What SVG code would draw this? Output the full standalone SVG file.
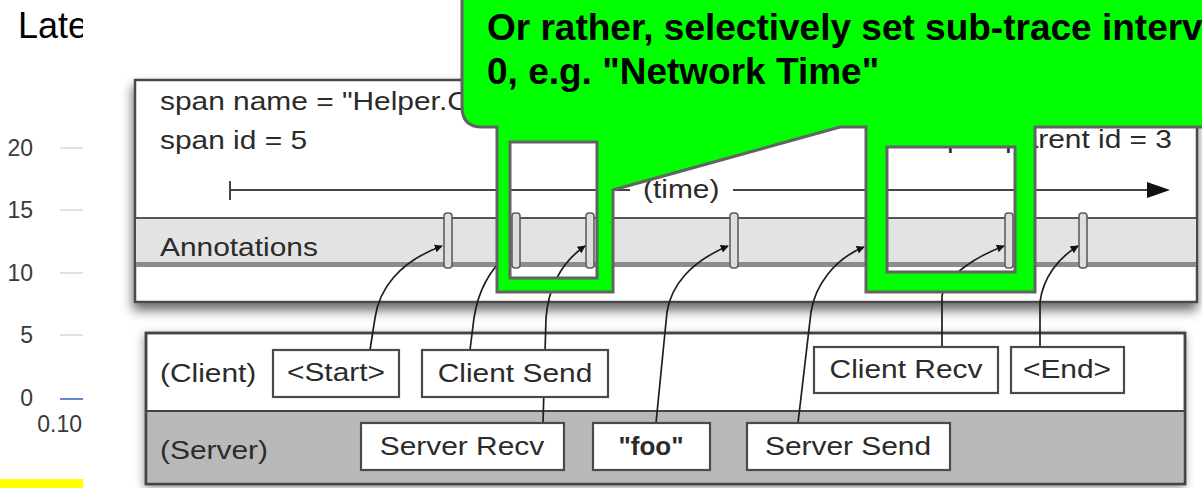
<svg xmlns="http://www.w3.org/2000/svg" width="1202" height="488" viewBox="0 0 1202 488">
  <defs>
    <style>
      .axis{font-family:"Liberation Sans",Arial,sans-serif;font-size:23px;fill:#3a3a3a}
      .tick{stroke:#cfcfcf;stroke-width:1.2}
      .lbl{font-family:"Liberation Sans",Arial,sans-serif;font-size:26px;fill:#2b2b2b}
      .bold{font-weight:bold}
      .box{fill:#fff;stroke:#4a4a4a;stroke-width:2.2}
      .mark{fill:#dedede;stroke:#5e5e5e;stroke-width:1.6}
      .conn{fill:none;stroke:#1e1e1e;stroke-width:1.7;marker-end:url(#head)}
      .axisline{fill:none;stroke:#444;stroke-width:2}
      .callout{font-family:"Liberation Sans",Arial,sans-serif;font-weight:bold;font-size:37px;fill:#000}
    </style>
    <filter id="shadow" x="-5%" y="-15%" width="110%" height="135%">
      <feDropShadow dx="-1" dy="7" stdDeviation="6" flood-color="#000" flood-opacity="0.6"/>
    </filter>
    <filter id="shadow2" x="-5%" y="-15%" width="110%" height="135%">
      <feDropShadow dx="-1" dy="3" stdDeviation="5" flood-color="#000" flood-opacity="0.4"/>
    </filter>
    <marker id="head" viewBox="0 0 10 10" refX="9" refY="5" markerWidth="8" markerHeight="8" markerUnits="userSpaceOnUse" orient="auto">
      <path d="M0,0 L10,5 L0,10 z" fill="#111"/>
    </marker>
  </defs>

  <!-- slide chart behind the figure -->
  <g id="chart">
    <text x="18" y="38" font-family="'Liberation Sans',Arial,sans-serif" font-size="36" fill="#000">Late</text>
    <text class="axis" x="33" y="156" text-anchor="end">20</text>
    <text class="axis" x="33" y="218" text-anchor="end">15</text>
    <text class="axis" x="33" y="281" text-anchor="end">10</text>
    <text class="axis" x="33" y="343" text-anchor="end">5</text>
    <text class="axis" x="33" y="406" text-anchor="end">0</text>
    <text class="axis" x="82" y="432" text-anchor="end">0.10</text>
    <line class="tick" x1="60" y1="148" x2="83" y2="148"/>
    <line class="tick" x1="60" y1="210" x2="83" y2="210"/>
    <line class="tick" x1="60" y1="273" x2="83" y2="273"/>
    <line class="tick" x1="60" y1="335" x2="83" y2="335"/>
    <line x1="60" y1="399" x2="83" y2="399" stroke="#3b66c4" stroke-width="1.6"/>
    <rect x="0" y="479" width="83" height="9" fill="#ffff00"/>
  </g>

  <!-- figure background -->
  <rect x="83" y="0" width="1119" height="488" fill="#fff"/>

  <!-- span box -->
  <g id="span">
    <rect x="135" y="80" width="1062" height="222" fill="#fff" stroke="#4a4a4a" stroke-width="2.5" filter="url(#shadow)"/>
    <text class="lbl" transform="translate(160 110) scale(1.15 1)">span name = "Helper.C</text>
    <text class="lbl" transform="translate(160 149) scale(1.15 1)">span id = 5</text>
    <text class="lbl" text-anchor="end" transform="translate(1172 148) scale(1.15 1)">span parent id = 3</text>
    <line class="axisline" x1="230" y1="181" x2="230" y2="200"/>
    <line class="axisline" x1="230" y1="190" x2="630" y2="190"/>
    <line class="axisline" x1="733" y1="190" x2="1150" y2="190"/>
    <path d="M1147,182 L1170,190 L1147,198 z" fill="#111"/>
    <text class="lbl" transform="translate(643 198) scale(1.15 1)">(time)</text>
  </g>

  <!-- annotation band -->
  <g id="annotations">
    <rect x="136" y="218" width="1060" height="46" fill="#e3e3e3"/>
    <line x1="136" y1="218" x2="1196" y2="218" stroke="#555" stroke-width="2"/>
    <rect x="136" y="262" width="1060" height="5" fill="#8c8c8c"/>
    <text class="lbl" transform="translate(160 256) scale(1.15 1)">Annotations</text>
    <rect class="mark" x="444" y="213" width="8" height="55" rx="3"/>
    <rect class="mark" x="512" y="213" width="8" height="55" rx="3"/>
    <rect class="mark" x="586" y="213" width="8" height="55" rx="3"/>
    <rect class="mark" x="730" y="213" width="8" height="55" rx="3"/>
    <rect class="mark" x="1005" y="213" width="8" height="55" rx="3"/>
    <rect class="mark" x="1079" y="213" width="8" height="55" rx="3"/>
  </g>

  <!-- client / server lanes -->
  <g id="lanes">
    <rect x="146" y="333" width="1039" height="151" fill="#fff" stroke="#444" stroke-width="2.5" filter="url(#shadow2)"/>
    <rect x="147" y="411" width="1037" height="72" fill="#b9b9b9"/>
    <line x1="146" y1="411" x2="1185" y2="411" stroke="#444" stroke-width="2"/>
    <rect x="146" y="333" width="1039" height="151" fill="none" stroke="#444" stroke-width="2.5"/>
    <text class="lbl" transform="translate(160 382) scale(1.15 1)">(Client)</text>
    <text class="lbl" transform="translate(160 459) scale(1.15 1)">(Server)</text>
  </g>

  <!-- connectors from events to annotations -->
  <g id="connectors">
    <path class="conn" d="M370,350 L375,318 C379,290 398,262 442,246"/>
    <path class="conn" d="M470,350 L474,318 C478,292 490,268 511,252"/>
    <path class="conn" d="M543,423 L546,318 C548,290 560,263 585,246"/>
    <path class="conn" d="M656,423 L667,312 C671,286 690,262 728,246"/>
    <path class="conn" d="M798,423 L811,312 C815,286 834,259 864,247"/>
    <path class="conn" d="M942,347 L942,296 C945,278 972,258 1004,246"/>
    <path class="conn" d="M1040,347 L1040,302 C1043,278 1058,258 1078,246"/>
  </g>

  <!-- events -->
  <g id="node-start">
    <rect class="box" x="273" y="350" width="126" height="47"/>
    <text class="lbl" text-anchor="middle" transform="translate(336 381) scale(1.15 1)">&lt;Start&gt;</text>
  </g>
  <g id="node-client-send">
    <rect class="box" x="422" y="350" width="186" height="47"/>
    <text class="lbl" text-anchor="middle" transform="translate(515 382) scale(1.15 1)">Client Send</text>
  </g>
  <g id="node-client-recv">
    <rect class="box" x="814" y="347" width="184" height="46"/>
    <text class="lbl" text-anchor="middle" transform="translate(906 378) scale(1.15 1)">Client Recv</text>
  </g>
  <g id="node-end">
    <rect class="box" x="1011" y="347" width="113" height="46"/>
    <text class="lbl" text-anchor="middle" transform="translate(1067 378) scale(1.15 1)">&lt;End&gt;</text>
  </g>
  <g id="node-server-recv">
    <rect class="box" x="361" y="423" width="203" height="47"/>
    <text class="lbl" text-anchor="middle" transform="translate(462 455) scale(1.15 1)">Server Recv</text>
  </g>
  <g id="node-foo">
    <rect class="box" x="593" y="423" width="117" height="47"/>
    <text class="lbl bold" text-anchor="middle" transform="translate(651 455)">"foo"</text>
  </g>
  <g id="node-server-send">
    <rect class="box" x="747" y="423" width="203" height="47"/>
    <text class="lbl" text-anchor="middle" transform="translate(848 455) scale(1.15 1)">Server Send</text>
  </g>

  <!-- callout with two highlight frames -->
  <g id="callout">
    <path fill="#00ff00" fill-rule="evenodd" stroke="#636363" stroke-width="3" stroke-linejoin="miter"
          d="M462,-10 L1214,-10 L1214,127 L1035,127 L1035,292 L866,292 L866,127 L840,127 L613,190 L613,292 L497,292 L497,127 L482,127 Q462,127 462,107 Z
             M510,142 L597,142 L597,278 L510,278 Z
             M887,147 L1015,147 L1015,272 L887,272 Z"/>
    <text class="callout" x="487" y="40">Or rather, selectively set sub-trace interv</text>
    <text class="callout" x="487" y="84">0, e.g. "Network Time"</text>
  </g>
</svg>
